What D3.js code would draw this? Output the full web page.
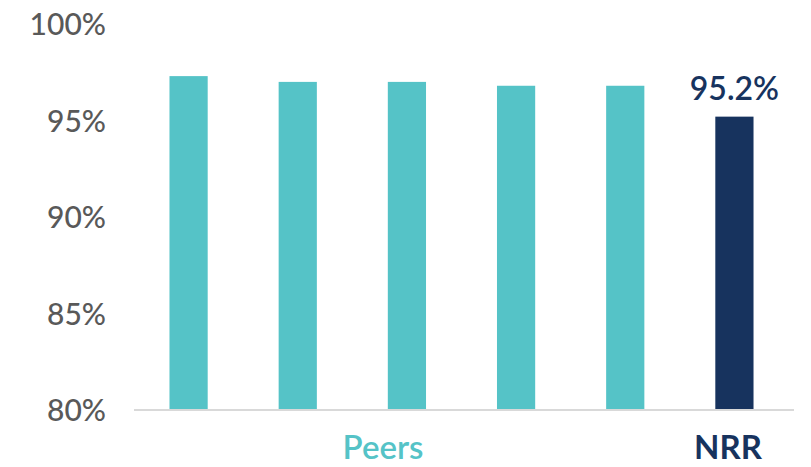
<!DOCTYPE html>
<html><head><meta charset="utf-8">
<script src="https://cdn.jsdelivr.net/npm/d3@7"></script>
<style>body{margin:0;background:#fff;}svg{display:block;font-family:Lato,"Open Sans",sans-serif;}</style>
</head><body>
<svg id="c" width="811" height="467"></svg>
<script>
const categories = ["Peer 1","Peer 2","Peer 3","Peer 4","Peer 5","NRR"];
const values = [97.3, 97.0, 97.0, 96.8, 96.8, 95.2];
const groups = ["Peers","Peers","Peers","Peers","Peers","NRR"];
const yTicks = [80, 85, 90, 95, 100];
const labelledValue = "95.2%";

const svg = d3.select("#c");
const teal = "#55c3c7", navy = "#17335e";
const y = d3.scaleLinear().domain([80, 100]).range([410, 24]);
const x = d3.scaleBand().domain(categories).range([134, 789]).paddingInner(0.65).paddingOuter(0.325);

// axis
const yAxis = d3.axisLeft(y).tickValues(yTicks).tickFormat(d => d + "%").tickSize(0).tickPadding(0);
const ga = svg.append("g").attr("transform", "translate(106,0)").call(yAxis);
ga.select(".domain").remove();
ga.selectAll("text").attr("font-size", 30).attr("font-weight", 500).attr("fill", "#595959").attr("font-family", "Lato, sans-serif").attr("dy", "0.36em");

// baseline
svg.append("line").attr("x1", 134).attr("x2", 794).attr("y1", y(80)).attr("y2", y(80))
  .attr("stroke", "#d9d9d9").attr("stroke-width", 2);

svg.selectAll("rect.bar").data(values).join("rect").attr("class", "bar")
  .attr("x", (d, i) => x(categories[i])).attr("width", x.bandwidth())
  .attr("y", d => y(d)).attr("height", d => y(80) - y(d) - 1)
  .attr("fill", (d, i) => groups[i] === "NRR" ? navy : teal);

// value label for NRR
const ni = categories.indexOf("NRR");
svg.append("text").attr("x", x("NRR") + x.bandwidth() / 2).attr("y", y(values[ni]) - 17)
  .attr("text-anchor", "middle").attr("font-size", 32).attr("font-weight", 600).attr("fill", navy)
  .text(labelledValue);

// group labels
svg.append("text").attr("x", 383).attr("y", 459).attr("text-anchor", "middle")
  .attr("font-size", 33).attr("font-weight", 600).attr("fill", teal).text("Peers");
svg.append("text").attr("x", 728).attr("y", 459).attr("text-anchor", "middle")
  .attr("font-size", 33).attr("font-weight", 700).attr("fill", navy).text("NRR");
</script>
</body></html>
